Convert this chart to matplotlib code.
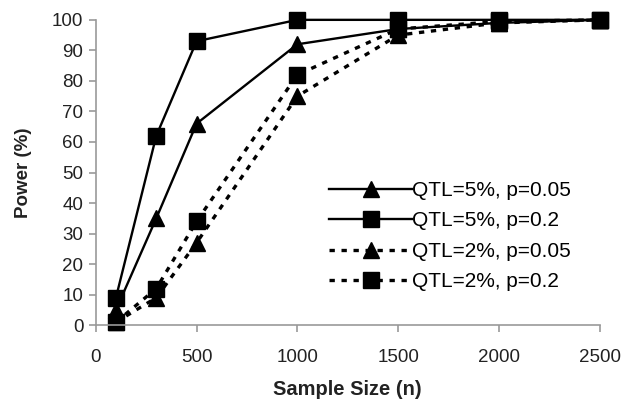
import matplotlib
matplotlib.use("Agg")
import matplotlib.pyplot as plt

plt.rcParams['font.family'] = ['Liberation Sans', 'DejaVu Sans']

n = [100, 300, 500, 1000, 1500, 2000, 2500]
qtl5_p005 = [5, 35, 66, 92, 97, 99, 100]
qtl5_p02 = [9, 62, 93, 100, 100, 100, 100]
qtl2_p005 = [1, 9, 27, 75, 95, 99, 100]
qtl2_p02 = [1, 12, 34, 82, 97, 99.5, 100]
labels = ["QTL=5%, p=0.05", "QTL=5%, p=0.2", "QTL=2%, p=0.05", "QTL=2%, p=0.2"]

fig = plt.figure(figsize=(6.26, 4.05), dpi=100)
ax = fig.add_axes([0.153, 0.197, 0.805, 0.754])

dot = (0, (1.6, 2.0))
ax.plot(n, qtl5_p005, color='black', lw=1.7, marker='^', ms=11, label=labels[0], clip_on=False)
ax.plot(n, qtl5_p02, color='black', lw=1.7, marker='s', ms=11, label=labels[1], clip_on=False)
ax.plot(n, qtl2_p005, color='black', lw=2.4, ls=dot, marker='^', ms=11, label=labels[2], clip_on=False)
ax.plot(n, qtl2_p02, color='black', lw=2.4, ls=dot, marker='s', ms=11, label=labels[3], clip_on=False)

ax.set_xlim(0, 2500)
ax.set_ylim(0, 100)
ax.set_xticks(range(0, 2501, 500))
ax.set_yticks(range(0, 101, 10))
for s in ['top', 'right']:
    ax.spines[s].set_visible(False)
for s in ['left', 'bottom']:
    ax.spines[s].set_color('#999999')
    ax.spines[s].set_linewidth(1.2)
ax.tick_params(axis='both', colors='#999999', labelcolor='#222222', labelsize=13.5, length=5, width=1.2)
ax.tick_params(axis='x', pad=12)
ax.tick_params(axis='y', pad=4)
ax.set_xlabel('Sample Size (n)', fontsize=14.5, fontweight='bold', labelpad=10, color='#222222')
ax.set_ylabel('Power (%)', fontsize=13.5, fontweight='bold', labelpad=14, color='#222222')

ax.legend(loc='upper left', bbox_to_anchor=(329 / 626, 1 - 181 / 405), bbox_transform=fig.transFigure,
          frameon=False, fontsize=15, borderpad=0, borderaxespad=0,
          handlelength=4.0, handletextpad=0.0, labelspacing=0.55)

fig.savefig('out.png', dpi=100)
